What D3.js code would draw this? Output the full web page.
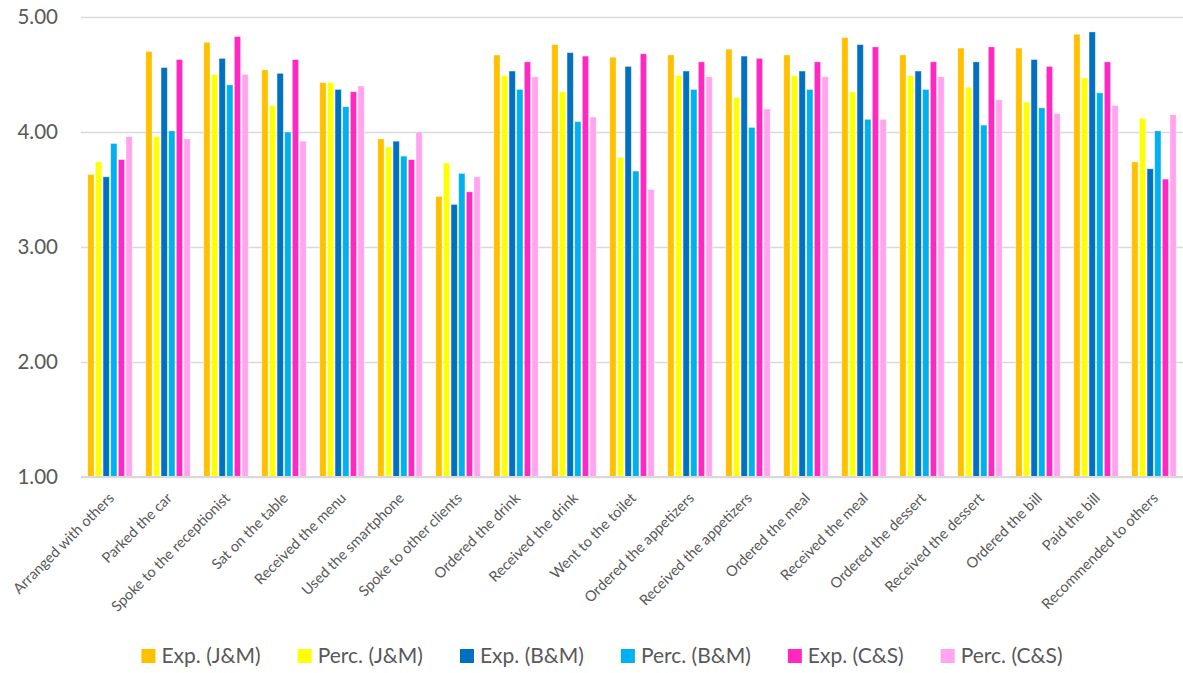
<!DOCTYPE html>
<html lang="en">
<head>
    <meta charset="UTF-8">
    <title>Expectation vs perception</title>
    <script src="https://d3js.org/d3.v7.min.js"></script>
    <style>
        body { margin: 0; background: #fff; }
        text { font-family: Lato, "Open Sans", sans-serif; fill: #595959; }
    </style>
</head>
<body>
    <svg width="1183" height="673"></svg>

    <script>
        // categories along the x axis
        const categories = [
            "Arranged with others", "Parked the car", "Spoke to the receptionist", "Sat on the table",
            "Received the menu", "Used the smartphone", "Spoke to other clients", "Ordered the drink",
            "Received the drink", "Went to the toilet", "Ordered the appetizers", "Received the appetizers",
            "Ordered the meal", "Received the meal", "Ordered the dessert", "Received the dessert",
            "Ordered the bill", "Paid the bill", "Recommended to others"
        ];

        const seriesNames = ["Exp. (J&M)", "Perc. (J&M)", "Exp. (B&M)", "Perc. (B&M)", "Exp. (C&S)", "Perc. (C&S)"];
        const seriesColors = ["#FFC000", "#FFFF00", "#0070C0", "#00B0F0", "#FF28C0", "#FFA5F0"];

        // values, one array per series
        const expJM  = [3.63, 4.70, 4.78, 4.54, 4.43, 3.94, 3.44, 4.67, 4.76, 4.65, 4.67, 4.72, 4.67, 4.82, 4.67, 4.73, 4.73, 4.85, 3.74];
        const percJM = [3.74, 3.96, 4.50, 4.23, 4.43, 3.87, 3.73, 4.49, 4.35, 3.78, 4.49, 4.30, 4.49, 4.35, 4.49, 4.39, 4.26, 4.47, 4.12];
        const expBM  = [3.61, 4.56, 4.64, 4.51, 4.37, 3.92, 3.37, 4.53, 4.69, 4.57, 4.53, 4.66, 4.53, 4.76, 4.53, 4.61, 4.63, 4.87, 3.68];
        const percBM = [3.90, 4.01, 4.41, 4.00, 4.22, 3.79, 3.64, 4.37, 4.09, 3.66, 4.37, 4.04, 4.37, 4.11, 4.37, 4.06, 4.21, 4.34, 4.01];
        const expCS  = [3.76, 4.63, 4.83, 4.63, 4.35, 3.76, 3.48, 4.61, 4.66, 4.68, 4.61, 4.64, 4.61, 4.74, 4.61, 4.74, 4.57, 4.61, 3.59];
        const percCS = [3.96, 3.94, 4.50, 3.92, 4.40, 4.00, 3.61, 4.48, 4.13, 3.50, 4.48, 4.20, 4.48, 4.11, 4.48, 4.28, 4.16, 4.23, 4.15];

        const yTicks = [1, 2, 3, 4, 5];

        const allSeries = [expJM, percJM, expBM, percBM, expCS, percCS];

        const width = 1183, height = 673;
        const margin = {top: 17, right: 0, bottom: 196, left: 81};
        const svg = d3.select("svg");

        const x0 = d3.scaleBand()
            .domain(categories)
            .range([margin.left, width - margin.right])
            .paddingInner(0.21)
            .paddingOuter(0.105);

        const x1 = d3.scaleBand()
            .domain(d3.range(seriesNames.length))
            .range([0, x0.bandwidth()])
            .paddingInner(0.18)
            .paddingOuter(0.09);

        const y = d3.scaleLinear()
            .domain([1, 5])
            .range([height - margin.bottom, margin.top]);

        // gridlines + y labels
        const yAxis = svg.append("g")
            .attr("transform", `translate(${margin.left},0)`)
            .call(d3.axisLeft(y)
                .tickValues(yTicks)
                .tickSize(-(width - margin.left - margin.right))
                .tickPadding(23)
                .tickFormat(d3.format(".2f")));
        yAxis.select(".domain").remove();
        yAxis.selectAll(".tick line")
            .attr("stroke", "#D9D9D9")
            .attr("stroke-width", 1.5);
        yAxis.selectAll(".tick text")
            .attr("font-size", "20.5px")
            .attr("font-family", "Lato, sans-serif")
            .attr("fill", "#595959");

        // bars
        const groups = svg.append("g")
            .selectAll("g")
            .data(categories)
            .join("g")
            .attr("transform", d => `translate(${x0(d)},0)`);

        groups.selectAll("rect")
            .data((d, i) => allSeries.map((s, k) => ({k: k, v: s[i]})))
            .join("rect")
            .attr("x", d => x1(d.k))
            .attr("y", d => y(d.v))
            .attr("width", x1.bandwidth())
            .attr("height", d => y(1) - y(d.v))
            .attr("fill", d => seriesColors[d.k])
            .attr("stroke", "#fff")
            .attr("stroke-opacity", 0.45)
            .attr("stroke-width", 0.8);

        // x axis line
        svg.append("line")
            .attr("x1", margin.left)
            .attr("x2", width - margin.right)
            .attr("y1", y(1))
            .attr("y2", y(1))
            .attr("stroke", "#D9D9D9")
            .attr("stroke-width", 2);

        // rotated category labels
        svg.append("g")
            .selectAll("text")
            .data(categories)
            .join("text")
            .attr("transform", d => `translate(${x0(d) + x0.bandwidth() / 2 + 5},${y(1) + 22}) rotate(-45)`)
            .attr("text-anchor", "end")
            .attr("font-size", "14.6px")
            .text(d => d);

        // legend, centred under the plot
        const legend = svg.append("g").attr("transform", `translate(0,656)`);
        const items = legend.selectAll("g")
            .data(seriesNames)
            .join("g");
        items.append("rect")
            .attr("y", -7)
            .attr("width", 14)
            .attr("height", 14)
            .attr("fill", (d, i) => seriesColors[i]);
        items.append("text")
            .attr("x", 20)
            .attr("dy", "0.35em")
            .attr("font-size", "21px")
            .text(d => d);

        const gap = 37;
        let pos = 0;
        const offsets = [];
        items.each(function() {
            offsets.push(pos);
            const w = d3.select(this).select("text").node().getComputedTextLength();
            pos += 20 + w + gap;
        });
        const total = pos - gap;
        const start = 602 - total / 2;
        items.attr("transform", (d, i) => `translate(${start + offsets[i]},0)`);
    </script>
</body>
</html>
